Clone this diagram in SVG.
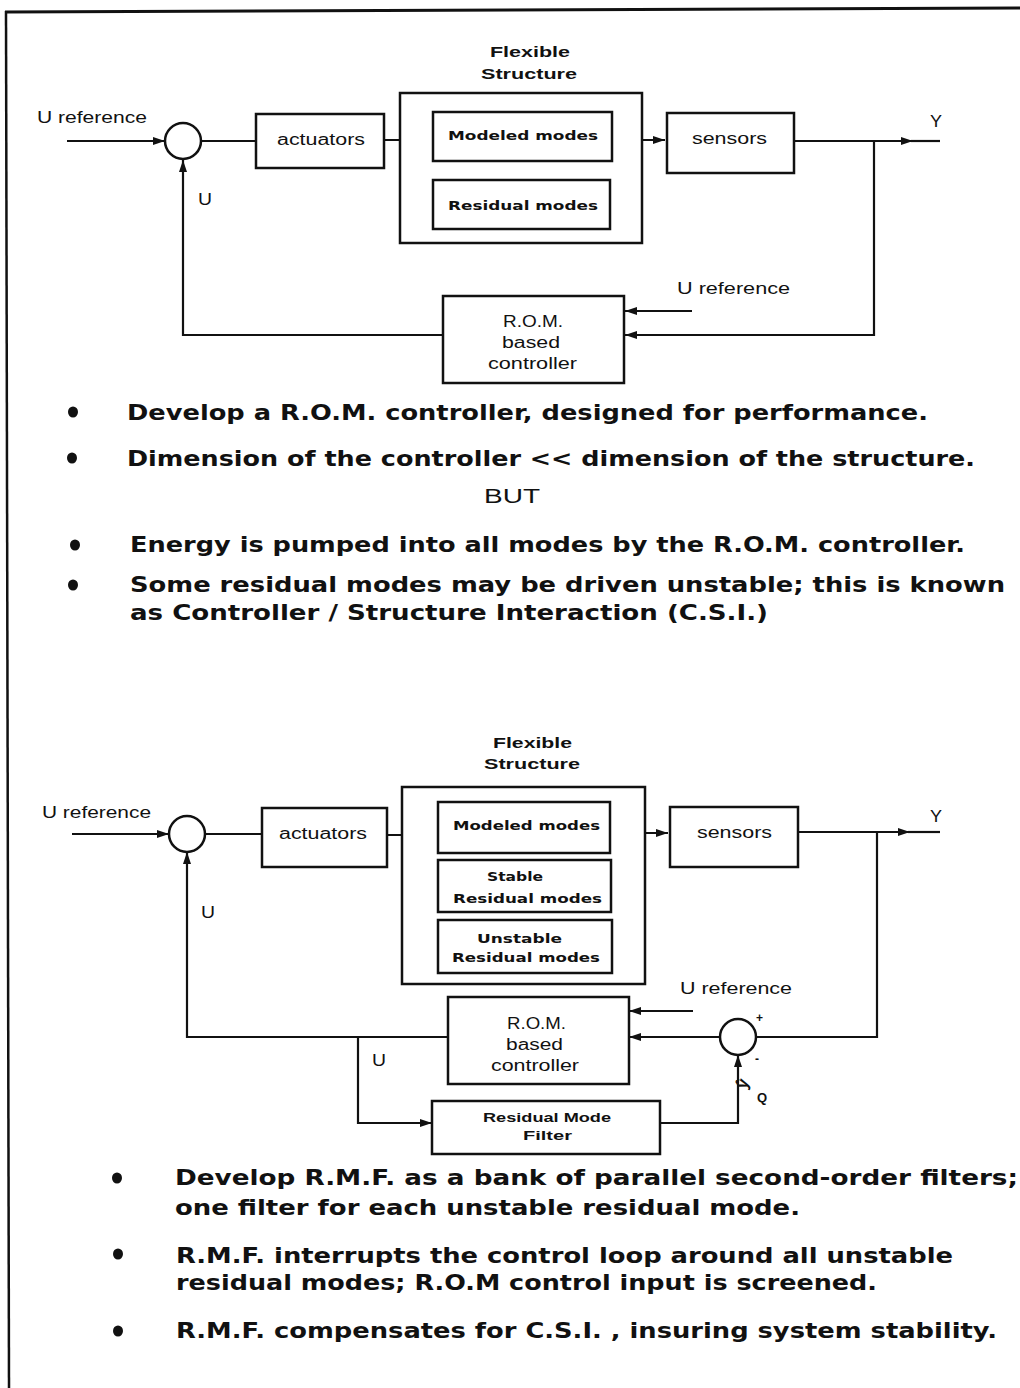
<svg xmlns="http://www.w3.org/2000/svg" width="1020" height="1388" viewBox="0 0 1020 1388">
<defs>
<marker id="ah" viewBox="0 0 12 8" refX="12" refY="4" markerWidth="12" markerHeight="8" markerUnits="userSpaceOnUse" orient="auto">
<path d="M0,0 L12,4 L0,8 Z" fill="#111"/>
</marker>
</defs>
<style>
.box{fill:#fff;stroke:#111;stroke-width:2.5}
.ln{fill:none;stroke:#111;stroke-width:2.2}
.lbl{font-family:"Liberation Sans",Arial,sans-serif;font-size:16px;fill:#111}
.bl{font-family:"Liberation Sans",Arial,sans-serif;font-size:15px;font-weight:bold;fill:#111}
.md{font-family:"DejaVu Sans","Liberation Sans",sans-serif;font-size:12.5px;font-weight:bold;fill:#111}
.bul{font-family:"DejaVu Sans","Liberation Sans",sans-serif;font-size:21px;font-weight:bold;fill:#111}
.dot{fill:#111}
</style>
<rect width="1020" height="1388" fill="#fff"/>
<g id="border">
<line x1="5" y1="12" x2="1020" y2="8" stroke="#111" stroke-width="3"/>
<line x1="6" y1="11" x2="9" y2="1388" stroke="#111" stroke-width="2.5"/>
</g>

<!-- ============ TOP DIAGRAM ============ -->
<g id="connectors-top">
<path class="ln" d="M67,141 L165,141" marker-end="url(#ah)"/>
<path class="ln" d="M201,141 L256,141"/>
<path class="ln" d="M384,140 L420,140" marker-end="url(#ah)"/>
<path class="ln" d="M418,140 L433,140"/>
<path class="ln" d="M422,140 V208 H433"/>
<path class="ln" d="M612,140 L665,140" marker-end="url(#ah)"/>
<path class="ln" d="M623,140 V208 H610"/>
<path class="ln" d="M794,141 L913,141" marker-end="url(#ah)"/>
<path class="ln" d="M911,141 L940,141"/>
<path class="ln" d="M874,141 V335 H625" marker-end="url(#ah)"/>
<path class="ln" d="M692,311 H625" marker-end="url(#ah)"/>
<path class="ln" d="M443,335 H183 V160" marker-end="url(#ah)"/>
</g>
<g id="sum1"><circle cx="183" cy="141" r="18" class="box"/></g>
<g id="labels-top">
<text class="lbl" x="37" y="123" textLength="110" lengthAdjust="spacingAndGlyphs">U reference</text>
<text class="lbl" x="198" y="205" textLength="14" lengthAdjust="spacingAndGlyphs">U</text>
<text class="lbl" x="930" y="127" textLength="12" lengthAdjust="spacingAndGlyphs">Y</text>
<text class="lbl" x="677" y="294" textLength="113" lengthAdjust="spacingAndGlyphs">U reference</text>
</g>
<g id="actuators1">
<rect class="box" x="256" y="114" width="128" height="54"/>
<text class="lbl" x="277" y="145" textLength="88" lengthAdjust="spacingAndGlyphs">actuators</text>
</g>
<g id="flex1">
<text class="bl" x="490" y="57" textLength="80" lengthAdjust="spacingAndGlyphs">Flexible</text>
<text class="bl" x="481" y="79" textLength="96" lengthAdjust="spacingAndGlyphs">Structure</text>
<rect class="box" x="400" y="93" width="242" height="150"/>
</g>
<g id="modeled1">
<rect class="box" x="433" y="112" width="179" height="49"/>
<text class="md" x="448" y="140" textLength="150" lengthAdjust="spacingAndGlyphs">Modeled modes</text>
</g>
<g id="residual1">
<rect class="box" x="433" y="180" width="177" height="49"/>
<text class="md" x="448" y="210" textLength="150" lengthAdjust="spacingAndGlyphs">Residual modes</text>
</g>
<g id="sensors1">
<rect class="box" x="667" y="113" width="127" height="60"/>
<text class="lbl" x="692" y="144" textLength="75" lengthAdjust="spacingAndGlyphs">sensors</text>
</g>
<g id="rom1">
<rect class="box" x="443" y="296" width="181" height="87"/>
<text class="lbl" x="503" y="327" textLength="60" lengthAdjust="spacingAndGlyphs">R.O.M.</text>
<text class="lbl" x="502" y="348" textLength="58" lengthAdjust="spacingAndGlyphs">based</text>
<text class="lbl" x="488" y="369" textLength="89" lengthAdjust="spacingAndGlyphs">controller</text>
</g>

<g id="bullets-top">
<ellipse class="dot" cx="73" cy="412" rx="5" ry="5.5"/>
<text class="bul" x="127" y="420" textLength="801" lengthAdjust="spacingAndGlyphs">Develop a R.O.M. controller, designed for performance.</text>
<ellipse class="dot" cx="72" cy="458" rx="5" ry="5.5"/>
<text class="bul" x="127" y="466" textLength="848" lengthAdjust="spacingAndGlyphs">Dimension of the controller &lt;&lt; dimension of the structure.</text>
<text class="lbl" x="484" y="503" style="font-size:20px" textLength="56" lengthAdjust="spacingAndGlyphs">BUT</text>
<ellipse class="dot" cx="75" cy="545" rx="5" ry="5.5"/>
<text class="bul" x="130" y="552" textLength="835" lengthAdjust="spacingAndGlyphs">Energy is pumped into all modes by the R.O.M. controller.</text>
<ellipse class="dot" cx="73" cy="585" rx="5" ry="5.5"/>
<text class="bul" x="130" y="592" textLength="875" lengthAdjust="spacingAndGlyphs">Some residual modes may be driven unstable; this is known</text>
<text class="bul" x="130" y="620" textLength="638" lengthAdjust="spacingAndGlyphs">as Controller / Structure Interaction (C.S.I.)</text>
</g>

<!-- ============ BOTTOM DIAGRAM ============ -->
<g id="connectors-bottom">
<path class="ln" d="M72,834 L169,834" marker-end="url(#ah)"/>
<path class="ln" d="M205,834 L262,834"/>
<path class="ln" d="M387,835 L428,835" marker-end="url(#ah)"/>
<path class="ln" d="M426,835 L438,835"/>
<path class="ln" d="M424,835 V943 H438"/>
<path class="ln" d="M610,833 L668,833" marker-end="url(#ah)"/>
<path class="ln" d="M626,833 V943 H612"/>
<path class="ln" d="M798,832 L910,832" marker-end="url(#ah)"/>
<path class="ln" d="M908,832 L940,832"/>
<path class="ln" d="M877,832 V1037 H756"/>
<path class="ln" d="M720,1037 H629" marker-end="url(#ah)"/>
<path class="ln" d="M693,1011 H629" marker-end="url(#ah)"/>
<path class="ln" d="M448,1037 H187 V852" marker-end="url(#ah)"/>
<path class="ln" d="M358,1037 V1123 H432" marker-end="url(#ah)"/>
<path class="ln" d="M660,1123 H738 V1055" marker-end="url(#ah)"/>
</g>
<g id="sum2"><circle cx="187" cy="834" r="18" class="box"/></g>
<g id="sum3"><circle cx="738" cy="1037" r="18" class="box"/></g>
<g id="labels-bottom">
<text class="lbl" x="42" y="818" textLength="109" lengthAdjust="spacingAndGlyphs">U reference</text>
<text class="lbl" x="930" y="822" textLength="12" lengthAdjust="spacingAndGlyphs">Y</text>
<text class="lbl" x="201" y="918" textLength="14" lengthAdjust="spacingAndGlyphs">U</text>
<text class="lbl" x="372" y="1066" textLength="14" lengthAdjust="spacingAndGlyphs">U</text>
<text class="lbl" x="680" y="994" textLength="112" lengthAdjust="spacingAndGlyphs">U reference</text>
<text class="bl" x="756" y="1022" style="font-size:12px">+</text>
<text class="bl" x="755" y="1063" style="font-size:12px">-</text>
<text class="bl" x="0" y="0" style="font-size:17px" transform="translate(746,1090) rotate(-70)">ŷ</text>
<text class="bl" x="757" y="1102" style="font-size:13px">Q</text>
</g>
<g id="actuators2">
<rect class="box" x="262" y="808" width="125" height="59"/>
<text class="lbl" x="279" y="839" textLength="88" lengthAdjust="spacingAndGlyphs">actuators</text>
</g>
<g id="flex2">
<text class="bl" x="493" y="748" textLength="79" lengthAdjust="spacingAndGlyphs">Flexible</text>
<text class="bl" x="484" y="769" textLength="96" lengthAdjust="spacingAndGlyphs">Structure</text>
<rect class="box" x="402" y="787" width="243" height="197"/>
</g>
<g id="modeled2">
<rect class="box" x="438" y="802" width="172" height="51"/>
<text class="md" x="453" y="830" textLength="147" lengthAdjust="spacingAndGlyphs">Modeled modes</text>
</g>
<g id="stable2">
<rect class="box" x="438" y="860" width="173" height="52"/>
<text class="md" x="487" y="881" textLength="56" lengthAdjust="spacingAndGlyphs">Stable</text>
<text class="md" x="453" y="903" textLength="149" lengthAdjust="spacingAndGlyphs">Residual modes</text>
</g>
<g id="unstable2">
<rect class="box" x="438" y="920" width="174" height="53"/>
<text class="md" x="477" y="943" textLength="85" lengthAdjust="spacingAndGlyphs">Unstable</text>
<text class="md" x="452" y="962" textLength="148" lengthAdjust="spacingAndGlyphs">Residual modes</text>
</g>
<g id="sensors2">
<rect class="box" x="670" y="807" width="128" height="60"/>
<text class="lbl" x="697" y="838" textLength="75" lengthAdjust="spacingAndGlyphs">sensors</text>
</g>
<g id="rom2">
<rect class="box" x="448" y="997" width="181" height="87"/>
<text class="lbl" x="507" y="1029" textLength="59" lengthAdjust="spacingAndGlyphs">R.O.M.</text>
<text class="lbl" x="506" y="1050" textLength="57" lengthAdjust="spacingAndGlyphs">based</text>
<text class="lbl" x="491" y="1071" textLength="88" lengthAdjust="spacingAndGlyphs">controller</text>
</g>
<g id="rmf">
<rect class="box" x="432" y="1101" width="228" height="53"/>
<text class="bl" x="483" y="1122" style="font-size:13px" textLength="128" lengthAdjust="spacingAndGlyphs">Residual Mode</text>
<text class="bl" x="523" y="1140" style="font-size:13px" textLength="49" lengthAdjust="spacingAndGlyphs">Filter</text>
</g>

<g id="bullets-bottom">
<ellipse class="dot" cx="117" cy="1178" rx="5" ry="5.5"/>
<text class="bul" x="175" y="1185" textLength="843" lengthAdjust="spacingAndGlyphs">Develop  R.M.F. as a bank of parallel second-order filters;</text>
<text class="bul" x="175" y="1215" textLength="625" lengthAdjust="spacingAndGlyphs">one filter for each unstable residual mode.</text>
<ellipse class="dot" cx="118" cy="1254" rx="5" ry="5.5"/>
<text class="bul" x="176" y="1263" textLength="777" lengthAdjust="spacingAndGlyphs">R.M.F. interrupts the control loop around all unstable</text>
<text class="bul" x="176" y="1290" textLength="701" lengthAdjust="spacingAndGlyphs">residual modes; R.O.M control input is screened.</text>
<ellipse class="dot" cx="118" cy="1331" rx="5" ry="5.5"/>
<text class="bul" x="176" y="1338" textLength="821" lengthAdjust="spacingAndGlyphs">R.M.F. compensates for C.S.I. , insuring system stability.</text>
</g>
</svg>
